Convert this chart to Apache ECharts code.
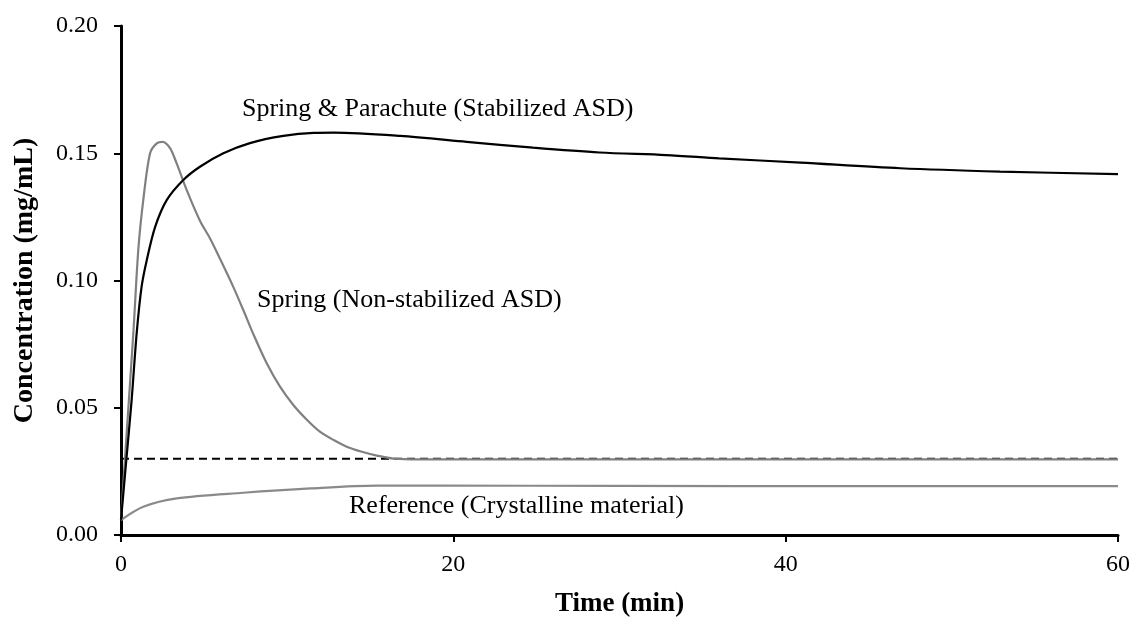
<!DOCTYPE html>
<html><head><meta charset="utf-8">
<script src="https://cdn.jsdelivr.net/npm/echarts@6/dist/echarts.min.js"></script>
<style>html,body{margin:0;padding:0;background:#fff}#c{width:1132px;height:617px}</style>
</head><body><div id="c"></div>
<script>
const parachuteT = [0, 0.3, 0.64, 0.94, 1.24, 1.55, 2.05, 2.75, 3.75, 4.75, 6.16, 7.76, 9.77, 11.6, 12.8, 16.8, 20.8, 24.8, 28.8, 32.8, 36, 40.9, 46.9, 52.9, 60];
const parachuteC = [0.006, 0.028, 0.053, 0.079, 0.0976, 0.108, 0.121, 0.1316, 0.1395, 0.1447, 0.150, 0.154, 0.1568, 0.158, 0.1581, 0.1568, 0.1545, 0.1522, 0.1503, 0.1493, 0.148, 0.1463, 0.1441, 0.1428, 0.1418];
const springT = [0, 0.34, 0.74, 1.04, 1.34, 1.75, 2.15, 2.5, 2.95, 3.35, 3.95, 4.75, 5.36, 5.96, 6.75, 7.36, 7.96, 8.77, 9.57, 10.37, 11.2, 11.97, 12.8, 13.58, 14.5, 15.4, 16.4, 18, 25, 40, 60];
const springC = [0.006, 0.040, 0.079, 0.112, 0.1316, 0.150, 0.1539, 0.1545, 0.152, 0.146, 0.1356, 0.1235, 0.1165, 0.1085, 0.0976, 0.0884, 0.079, 0.0675, 0.0583, 0.0511, 0.0452, 0.0406, 0.0373, 0.0347, 0.0327, 0.0312, 0.0300, 0.0297, 0.0297, 0.0297, 0.0297];
const referenceT = [0, 1.34, 3.35, 7.36, 11.4, 15.4, 19.4, 30, 45, 60];
const referenceC = [0.0059, 0.0111, 0.0144, 0.0166, 0.0183, 0.0194, 0.0194, 0.0193, 0.0192, 0.0192];
const solubilityT = [0, 60];
const solubilityC = [0.030, 0.030];
const yTicks = [0, 0.05, 0.10, 0.15, 0.20];
const xTicks = [0, 20, 40, 60];
const labels = ["Spring & Parachute (Stabilized ASD)", "Spring (Non-stabilized ASD)", "Reference (Crystalline material)"];

const zip = (a, b) => a.map((v, i) => [v, b[i]]);
const serif = '"Liberation Serif", "Times New Roman", serif';
const chart = echarts.init(document.getElementById('c'), null, {renderer: 'canvas'});
chart.setOption({
  animation: false,
  grid: {left: 121, right: 14, top: 26, bottom: 82, containLabel: false, outerBoundsMode: 'none'},
  xAxis: {
    type: 'value', min: xTicks[0], max: xTicks[xTicks.length - 1], interval: 20,
    name: 'Time (min)', nameLocation: 'middle', nameGap: 56,
    nameTextStyle: {fontFamily: serif, fontWeight: 'bold', fontSize: 27, color: '#000'},
    axisLine: {show: true, lineStyle: {color: '#000', width: 3}},
    axisTick: {show: true, length: 7, lineStyle: {color: '#000', width: 2}},
    axisLabel: {fontFamily: serif, fontSize: 24, color: '#000', margin: 18},
    splitLine: {show: false}
  },
  yAxis: {
    type: 'value', min: yTicks[0], max: yTicks[yTicks.length - 1], interval: 0.05,
    name: 'Concentration (mg/mL)', nameLocation: 'middle', nameGap: 82, nameRotate: 90,
    nameTextStyle: {fontFamily: serif, fontWeight: 'bold', fontSize: 28, color: '#000'},
    axisLine: {show: true, lineStyle: {color: '#000', width: 3}},
    axisTick: {show: true, length: 7, lineStyle: {color: '#000', width: 2}},
    axisLabel: {fontFamily: serif, fontSize: 24, color: '#000', margin: 23, formatter: v => v.toFixed(2)},
    splitLine: {show: false}
  },
  series: [
    {type: 'line', data: zip(solubilityT, solubilityC), symbol: 'none', z: 1,
     lineStyle: {color: '#000', width: 2, type: [8, 5]}},
    {type: 'line', data: zip(referenceT, referenceC), symbol: 'none', smooth: 0.3, z: 2,
     lineStyle: {color: '#8a8a8a', width: 2.2}},
    {type: 'line', data: zip(springT, springC), symbol: 'none', smooth: 0.3, z: 3,
     lineStyle: {color: '#808080', width: 2.2}},
    {type: 'line', data: zip(parachuteT, parachuteC), symbol: 'none', smooth: 0.3, z: 4,
     lineStyle: {color: '#000', width: 2.2}}
  ],
  graphic: [
    {type: 'text', left: 242, top: 96, style: {text: labels[0], font: '26px ' + serif, fill: '#000'}},
    {type: 'text', left: 257, top: 287, style: {text: labels[1], font: '26px ' + serif, fill: '#000'}},
    {type: 'text', left: 349, top: 493, style: {text: labels[2], font: '26px ' + serif, fill: '#000'}}
  ]
});
</script></body></html>
